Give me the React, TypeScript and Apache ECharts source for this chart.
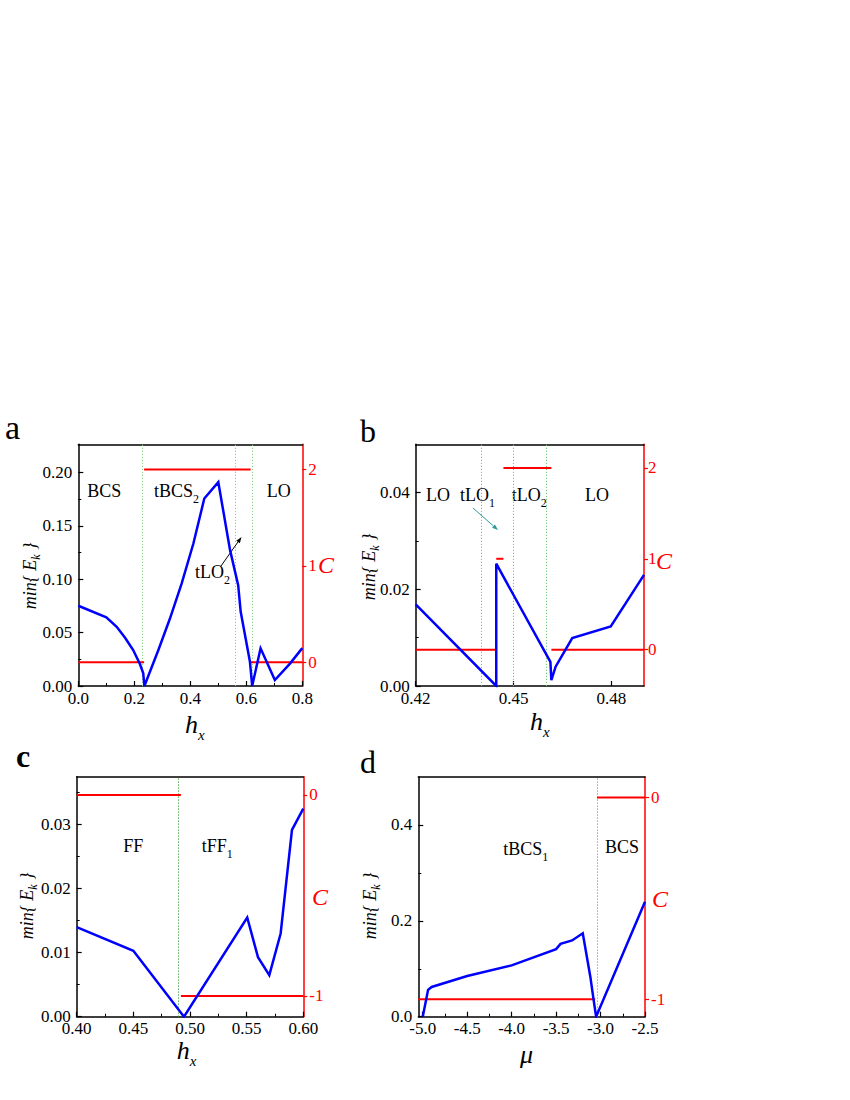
import React, { useEffect, useRef } from 'react';
import * as echarts from 'echarts';

const SERIF = "'Liberation Serif', 'Times New Roman', Times, serif";
const BLUE = '#0000ff';
const RED = '#ff0000';

// ---------- Panel a ----------
const aHx = [0, 0.1, 0.137, 0.167, 0.196, 0.22, 0.232, 0.236, 0.286, 0.327, 0.369, 0.411, 0.45, 0.5, 0.542, 0.571, 0.58, 0.613, 0.621, 0.651, 0.702, 0.756, 0.8];
const aMinEk = [0.0752, 0.0643, 0.0555, 0.0452, 0.0337, 0.0206, 0.0119, 0, 0.0337, 0.063, 0.096, 0.1335, 0.1757, 0.191, 0.1273, 0.0945, 0.0695, 0.0227, 0, 0.0353, 0.0056, 0.021, 0.0355];
const aChernFrom = [0, 0.235, 0.6155];
const aChernTo = [0.235, 0.6155, 0.8];
const aChern = [0, 2, 0];
const aBounds = [0.235, 0.558, 0.621];
const aXTicks = [0, 0.2, 0.4, 0.6, 0.8];
const aXMinor = [0.1, 0.3, 0.5, 0.7];
const aYTicks = [0, 0.05, 0.1, 0.15, 0.2];
const aYMinor = [0.025, 0.075, 0.125, 0.175];
const aCTicks = [0, 1, 2];

// ---------- Panel b ----------
const bHx = [0.42, 0.4447, 0.4447, 0.4613, 0.4616, 0.4629, 0.468, 0.4798, 0.49];
const bMinEk = [0.0169, 0, 0.0253, 0.005, 0.0012, 0.004, 0.0099, 0.0123, 0.023];
const bChernFrom = [0.42, 0.4447, 0.4469, 0.4616];
const bChernTo = [0.4447, 0.4469, 0.4616, 0.49];
const bChern = [0, 1, 2, 0];
const bBounds = [0.4449, 0.4469, 0.4616];
const bXTicks = [0.42, 0.45, 0.48];
const bXMinor: number[] = [];
const bYTicks = [0, 0.02, 0.04];
const bYMinor = [0.01, 0.03];
const bCTicks = [0, 1, 2];

// ---------- Panel c ----------
const cHx = [0.4, 0.45, 0.4947, 0.5505, 0.56, 0.57, 0.58, 0.59, 0.6];
const cMinEk = [0.014, 0.0103, 0, 0.0155, 0.0093, 0.0065, 0.013, 0.0292, 0.0325];
const cChernFrom = [0.4, 0.492];
const cChernTo = [0.492, 0.6];
const cChern = [0, -1];
const cBounds = [0.492];
const cXTicks = [0.4, 0.45, 0.5, 0.55, 0.6];
const cXMinor = [0.425, 0.475, 0.525, 0.575];
const cYTicks = [0, 0.01, 0.02, 0.03];
const cYMinor = [0.005, 0.015, 0.025, 0.035];
const cCTicks = [-1, 0];

// ---------- Panel d ----------
const dMu = [-5.0, -4.94, -4.9, -4.5, -4.0, -3.5, -3.45, -3.32, -3.2, -3.115, -3.078, -3.05, -2.5];
const dMinEk = [0, 0.056, 0.062, 0.085, 0.107, 0.141, 0.152, 0.159, 0.174, 0.0835, 0.035, 0, 0.24];
const dChernFrom = [-5.05, -3.04];
const dChernTo = [-3.06, -2.5];
const dChern = [-1, 0];
const dBounds = [-3.04];
const dXTicks = [-5, -4.5, -4, -3.5, -3, -2.5];
const dXMinor = [-4.75, -4.25, -3.75, -3.25, -2.75];
const dYTicks = [0, 0.2, 0.4];
const dYMinor = [0.1, 0.3];
const dCTicks = [-1, 0];

type Part = { t: string; size: number; dy?: number; italic?: boolean; bold?: boolean };

let measureCtx: CanvasRenderingContext2D | null = null;
function fontStr(p: Part) {
  return `${p.italic ? 'italic ' : ''}${p.bold ? 'bold ' : ''}${p.size}px ${SERIF}`;
}
function textWidth(p: Part) {
  if (!measureCtx) measureCtx = document.createElement('canvas').getContext('2d');
  if (!measureCtx) return p.t.length * p.size * 0.5;
  measureCtx.font = fontStr(p);
  return measureCtx.measureText(p.t).width;
}

function txtStyle(p: Part, color: string) {
  return {
    text: p.t, fill: color, fontFamily: SERIF, fontSize: p.size,
    fontStyle: p.italic ? 'italic' : 'normal', fontWeight: p.bold ? 'bold' : 'normal',
    align: 'left', verticalAlign: 'middle',
  };
}

function hText(parts: Part[], x: number, base: number, color: string) {
  let cur = x;
  return parts.map((p) => {
    const el = { type: 'text', x: cur, y: base + (p.dy || 0) - 0.33 * p.size, silent: true, style: txtStyle(p, color) };
    cur += textWidth(p);
    return el;
  });
}

function vText(parts: Part[], bx: number, cy: number, color: string) {
  const widths = parts.map(textWidth);
  const total = widths.reduce((s, w) => s + w, 0);
  let cur = -total / 2;
  return parts.map((p, i) => {
    const el = {
      type: 'text', x: bx + (p.dy || 0) - 0.33 * p.size, y: cy - cur,
      rotation: Math.PI / 2, silent: true, style: txtStyle(p, color),
    };
    cur += widths[i];
    return el;
  });
}

function arrow(x1: number, y1: number, x2: number, y2: number, color: string) {
  const dx = x2 - x1, dy = y2 - y1;
  const len = Math.sqrt(dx * dx + dy * dy);
  const ux = dx / len, uy = dy / len;
  const L = 6, Wd = 2.2;
  const bx = x2 - ux * L, by = y2 - uy * L;
  return [
    { type: 'line', silent: true, shape: { x1, y1, x2: bx, y2: by }, style: { stroke: color, lineWidth: 1 } },
    {
      type: 'polygon', silent: true,
      shape: { points: [[x2, y2], [bx - uy * Wd, by + ux * Wd], [bx + uy * Wd, by - ux * Wd]] },
      style: { fill: color },
    },
  ];
}

const panels = [
  {
    grid: { left: 78.3, top: 444.3, width: 224, height: 241.7 },
    x: aHx, y: aMinEk, xMin: 0, xMax: 0.8, xTicks: aXTicks, xMinor: aXMinor, xDec: 1,
    yMin: 0, yMax: 0.2265, yTicks: aYTicks, yMinor: aYMinor, yDec: 2,
    cMin: -0.245, cMax: 2.26, cTicks: aCTicks, cMargin: 6,
    cFrom: aChernFrom, cTo: aChernTo, cVal: aChern, bounds: aBounds, boundColor: '#86d286',
  },
  {
    grid: { left: 415.7, top: 444.3, width: 228.3, height: 241.7 },
    x: bHx, y: bMinEk, xMin: 0.42, xMax: 0.49, xTicks: bXTicks, xMinor: bXMinor, xDec: 2,
    yMin: 0, yMax: 0.05, yTicks: bYTicks, yMinor: bYMinor, yDec: 2,
    cMin: -0.4, cMax: 2.26, cTicks: bCTicks, cMargin: 4,
    cFrom: bChernFrom, cTo: bChernTo, cVal: bChern, bounds: bBounds, boundColor: '#70c870',
  },
  {
    grid: { left: 76.7, top: 776.7, width: 226.6, height: 240 },
    x: cHx, y: cMinEk, xMin: 0.4, xMax: 0.6, xTicks: cXTicks, xMinor: cXMinor, xDec: 2,
    yMin: 0, yMax: 0.0375, yTicks: cYTicks, yMinor: cYMinor, yDec: 2,
    cMin: -1.103, cMax: 0.091, cTicks: cCTicks, cMargin: 6,
    cFrom: cChernFrom, cTo: cChernTo, cVal: cChern, bounds: cBounds, boundColor: '#2e9a2e',
  },
  {
    grid: { left: 418.3, top: 777, width: 226.7, height: 239.7 },
    x: dMu, y: dMinEk, xMin: -5.05, xMax: -2.5, xTicks: dXTicks, xMinor: dXMinor, xDec: 1,
    yMin: 0, yMax: 0.5, yTicks: dYTicks, yMinor: dYMinor, yDec: 1,
    cMin: -1.086, cMax: 0.101, cTicks: dCTicks, cMargin: 6,
    cFrom: dChernFrom, cTo: dChernTo, cVal: dChern, bounds: dBounds, boundColor: '#55b855',
  },
];

function buildOption() {
  const grid: any[] = [];
  const xAxis: any[] = [];
  const yAxis: any[] = [];
  const series: any[] = [];
  const rich = (color: string) => ({
    t: { fontFamily: SERIF, fontSize: 17, color, lineHeight: 12 },
  });

  panels.forEach((p, g) => {
    grid.push({ ...p.grid, containLabel: false, outerBoundsMode: 'none', show: false });
    const xi = xAxis.length;
    xAxis.push({
      type: 'value', gridIndex: g, position: 'bottom', min: p.xMin, max: p.xMax,
      axisLine: { show: true, onZero: false, lineStyle: { color: '#000', width: 1.5 } },
      axisTick: { show: true, inside: true, length: 5, customValues: p.xTicks, lineStyle: { color: '#000', width: 1.2 } },
      axisLabel: {
        show: true, margin: 6, customValues: p.xTicks, color: '#000', fontSize: 17, fontFamily: SERIF,
        rich: rich('#000'),
        formatter: (v: number) => `{t|${v.toFixed(p.xDec)}}`,
      },
      splitLine: { show: false },
    });
    xAxis.push({
      type: 'value', gridIndex: g, position: 'bottom', min: p.xMin, max: p.xMax,
      axisLine: { show: false, onZero: false },
      axisTick: { show: p.xMinor.length > 0, inside: true, length: 3, customValues: p.xMinor, lineStyle: { color: '#000', width: 1 } },
      axisLabel: { show: false },
      splitLine: { show: false },
    });
    xAxis.push({
      type: 'value', gridIndex: g, position: 'top', min: p.xMin, max: p.xMax,
      axisLine: { show: true, onZero: false, lineStyle: { color: '#000', width: 1.5 } },
      axisTick: { show: false }, axisLabel: { show: false }, splitLine: { show: false },
    });
    const yi = yAxis.length;
    yAxis.push({
      type: 'value', gridIndex: g, position: 'left', min: p.yMin, max: p.yMax,
      axisLine: { show: true, onZero: false, lineStyle: { color: '#000', width: 1.5 } },
      axisTick: { show: true, inside: true, length: 5, customValues: p.yTicks, lineStyle: { color: '#000', width: 1.2 } },
      axisLabel: {
        show: true, margin: 6, customValues: p.yTicks, color: '#000', fontSize: 17, fontFamily: SERIF,
        rich: rich('#000'),
        formatter: (v: number) => `{t|${v.toFixed(p.yDec)}}`,
      },
      splitLine: { show: false },
    });
    yAxis.push({
      type: 'value', gridIndex: g, position: 'right', min: p.cMin, max: p.cMax,
      axisLine: { show: true, onZero: false, lineStyle: { color: RED, width: 1.5 } },
      axisTick: { show: true, inside: false, length: 4, customValues: p.cTicks, lineStyle: { color: RED, width: 1.2 } },
      axisLabel: {
        show: true, margin: p.cMargin, customValues: p.cTicks, color: RED, fontSize: 17, fontFamily: SERIF,
        rich: rich(RED),
        formatter: (v: number) => `{t|${v}}`,
      },
      splitLine: { show: false },
    });
    yAxis.push({
      type: 'value', gridIndex: g, position: 'left', min: p.yMin, max: p.yMax,
      axisLine: { show: false, onZero: false },
      axisTick: { show: true, inside: true, length: 3, customValues: p.yMinor, lineStyle: { color: '#000', width: 1 } },
      axisLabel: { show: false }, splitLine: { show: false },
    });

    series.push({
      type: 'line', xAxisIndex: xi, yAxisIndex: yi, z: 5,
      data: p.x.map((v, i) => [v, p.y[i]]),
      showSymbol: false, symbol: 'none', clip: true,
      lineStyle: { color: BLUE, width: 2.5, join: 'miter' },
      markLine: {
        silent: true, symbol: ['none', 'none'], label: { show: false }, z: 1,
        lineStyle: { color: p.boundColor, type: [1.2, 1.8], width: 1 },
        emphasis: { disabled: true },
        data: p.bounds.map((b) => ({ xAxis: b })),
      },
    });
    p.cVal.forEach((c, i) => {
      series.push({
        type: 'line', xAxisIndex: xi, yAxisIndex: yi + 1, z: 4,
        data: [[p.cFrom[i], c], [p.cTo[i], c]],
        showSymbol: false, symbol: 'none',
        lineStyle: { color: RED, width: 2 },
      });
    });
  });

  const black = '#000';
  const graphics: any[] = [];
  graphics.push(...hText([{ t: 'a', size: 34 }], 5, 439, black));
  graphics.push(...hText([{ t: 'b', size: 32 }], 360, 441.5, black));
  graphics.push(...hText([{ t: 'c', size: 32, bold: true }], 16, 767, black));
  graphics.push(...hText([{ t: 'd', size: 32 }], 360, 773, black));

  const sub = (main: string, s: string): Part[] =>
    s ? [{ t: main, size: 18 }, { t: s, size: 12, dy: 6 }] : [{ t: main, size: 18 }];
  graphics.push(...hText(sub('BCS', ''), 87.3, 497.3, black));
  graphics.push(...hText(sub('tBCS', '2'), 154, 497.3, black));
  graphics.push(...hText(sub('LO', ''), 266.7, 497.3, black));
  graphics.push(...hText(sub('tLO', '2'), 195, 578.3, black));
  graphics.push(...arrow(221, 566, 241.5, 537, black));
  graphics.push(...hText(sub('LO', ''), 426, 500.7, black));
  graphics.push(...hText(sub('tLO', '1'), 460, 500.7, black));
  graphics.push(...hText(sub('tLO', '2'), 511.7, 500.7, black));
  graphics.push(...hText(sub('LO', ''), 585, 500.7, black));
  graphics.push(...arrow(473, 508, 498, 530, '#2a9a9a'));
  graphics.push(...hText(sub('FF', ''), 123.3, 851.7, black));
  graphics.push(...hText(sub('tFF', '1'), 201.7, 851.7, black));
  graphics.push(...hText(sub('tBCS', '1'), 503.3, 855, black));
  graphics.push(...hText(sub('BCS', ''), 605, 853, black));

  const hx: Part[] = [{ t: 'h', size: 26, italic: true }, { t: 'x', size: 15, italic: true, dy: 7 }];
  graphics.push(...hText(hx, 185, 732.7, black));
  graphics.push(...hText(hx, 530, 730, black));
  graphics.push(...hText(hx, 176.7, 1059.3, black));
  graphics.push(...hText([{ t: 'μ', size: 26, italic: true }], 520, 1063, black));

  const yt: Part[] = [
    { t: 'min{ E', size: 18, italic: true },
    { t: 'k', size: 12, italic: true, dy: 4 },
    { t: ' }', size: 18, italic: true },
  ];
  graphics.push(...vText(yt, 36, 576, black));
  graphics.push(...vText(yt, 374.5, 567, black));
  graphics.push(...vText(yt, 33, 906, black));
  graphics.push(...vText(yt, 376, 906, black));

  graphics.push(...hText([{ t: 'C', size: 24, italic: true }], 318, 573, RED));
  graphics.push(...hText([{ t: 'C', size: 24, italic: true }], 656, 569, RED));
  graphics.push(...hText([{ t: 'C', size: 24, italic: true }], 312, 905, RED));
  graphics.push(...hText([{ t: 'C', size: 24, italic: true }], 652, 906.7, RED));

  return {
    animation: false,
    backgroundColor: '#fff',
    grid, xAxis, yAxis, series,
    graphic: { elements: graphics },
  };
}

export default function App() {
  const ref = useRef<HTMLDivElement>(null);
  useEffect(() => {
    if (!ref.current) return;
    const chart = echarts.init(ref.current, null, { renderer: 'svg', width: 850, height: 1100 });
    chart.setOption(buildOption() as any);
    return () => chart.dispose();
  }, []);
  return <div ref={ref} style={{ position: 'absolute', left: 0, top: 0, width: 850, height: 1100 }} />;
}
